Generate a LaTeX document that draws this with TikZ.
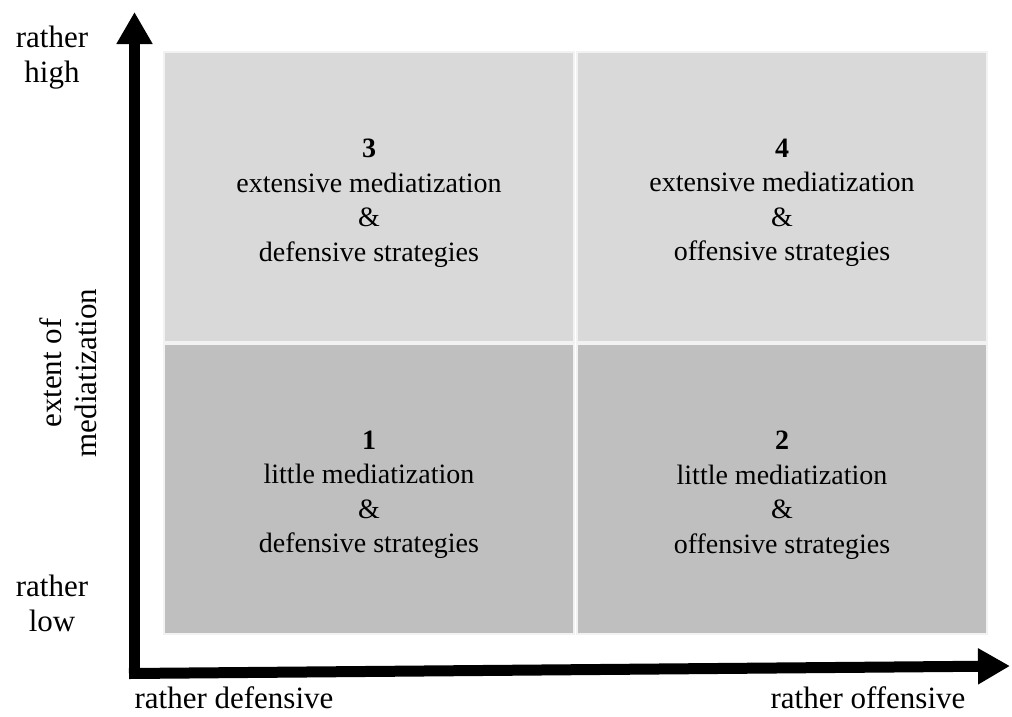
\documentclass[tikz,border=0pt]{standalone}
\usepackage{fontspec}
\setmainfont{Liberation Serif}
\usetikzlibrary{arrows.meta,positioning}
\definecolor{quadHigh}{HTML}{D9D9D9}
\definecolor{quadLow}{HTML}{BFBFBF}
\definecolor{quadEdge}{HTML}{F2F2F2}

\begin{document}
\begin{tikzpicture}[x=1pt,y=-1pt,every node/.style={font=\fontsize{28}{34.5}\selectfont}]
      \tikzstyle{cell}=[draw=quadEdge,line width=1.5pt,minimum width=410pt,
                        minimum height=290pt,inner sep=0pt]
      \tikzstyle{txt}=[align=center,yshift=-6pt]
      \tikzstyle{lab}=[align=center,font=\fontsize{31}{35}\selectfont]
      \tikzstyle{axis}=[line width=11pt,-{Triangle[length=32pt,width=34pt]}]
      \useasboundingbox (0,0) rectangle (1012,716);
      % quadrants
      \node[cell,fill=quadHigh] (q3) at (369,197) {};
      \node[cell,fill=quadHigh] (q4) at (782,197) {};
      \node[cell,fill=quadLow] (q1) at (369,489) {};
      \node[cell,fill=quadLow] (q2) at (782,489) {};
      \node[txt] (t3) at (q3) {\textbf{3}\\extensive mediatization\\\&\\defensive strategies};
      \node[txt] (t4) at (q4) {\textbf{4}\\extensive mediatization\\\&\\offensive strategies};
      \node[txt] (t1) at (q1) {\textbf{1}\\little mediatization\\\&\\defensive strategies};
      \node[txt] (t2) at (q2) {\textbf{2}\\little mediatization\\\&\\offensive strategies};
      % axes
      \coordinate (ybase) at (134.5,679);
      \coordinate (ytip) at (134.5,12);
      \coordinate (xbase) at (129,673.5);
      \coordinate (xtip) at (1010,666);
      \draw[axis] (ybase)--(ytip);
      \draw[axis] (xbase)--(xtip);
      % axis labels
      \node[lab] (hi) at (52,58) {rather\\high};
      \node[lab] (lo) at (52,603) {rather\\low};
      \node[lab,rotate=90] (yl) at (68,373) {extent of\\mediatization};
      \node[lab] (def) at (234,698) {rather defensive};
      \node[lab] (off) at (868,698) {rather offensive};
    \end{tikzpicture}
\end{document}
